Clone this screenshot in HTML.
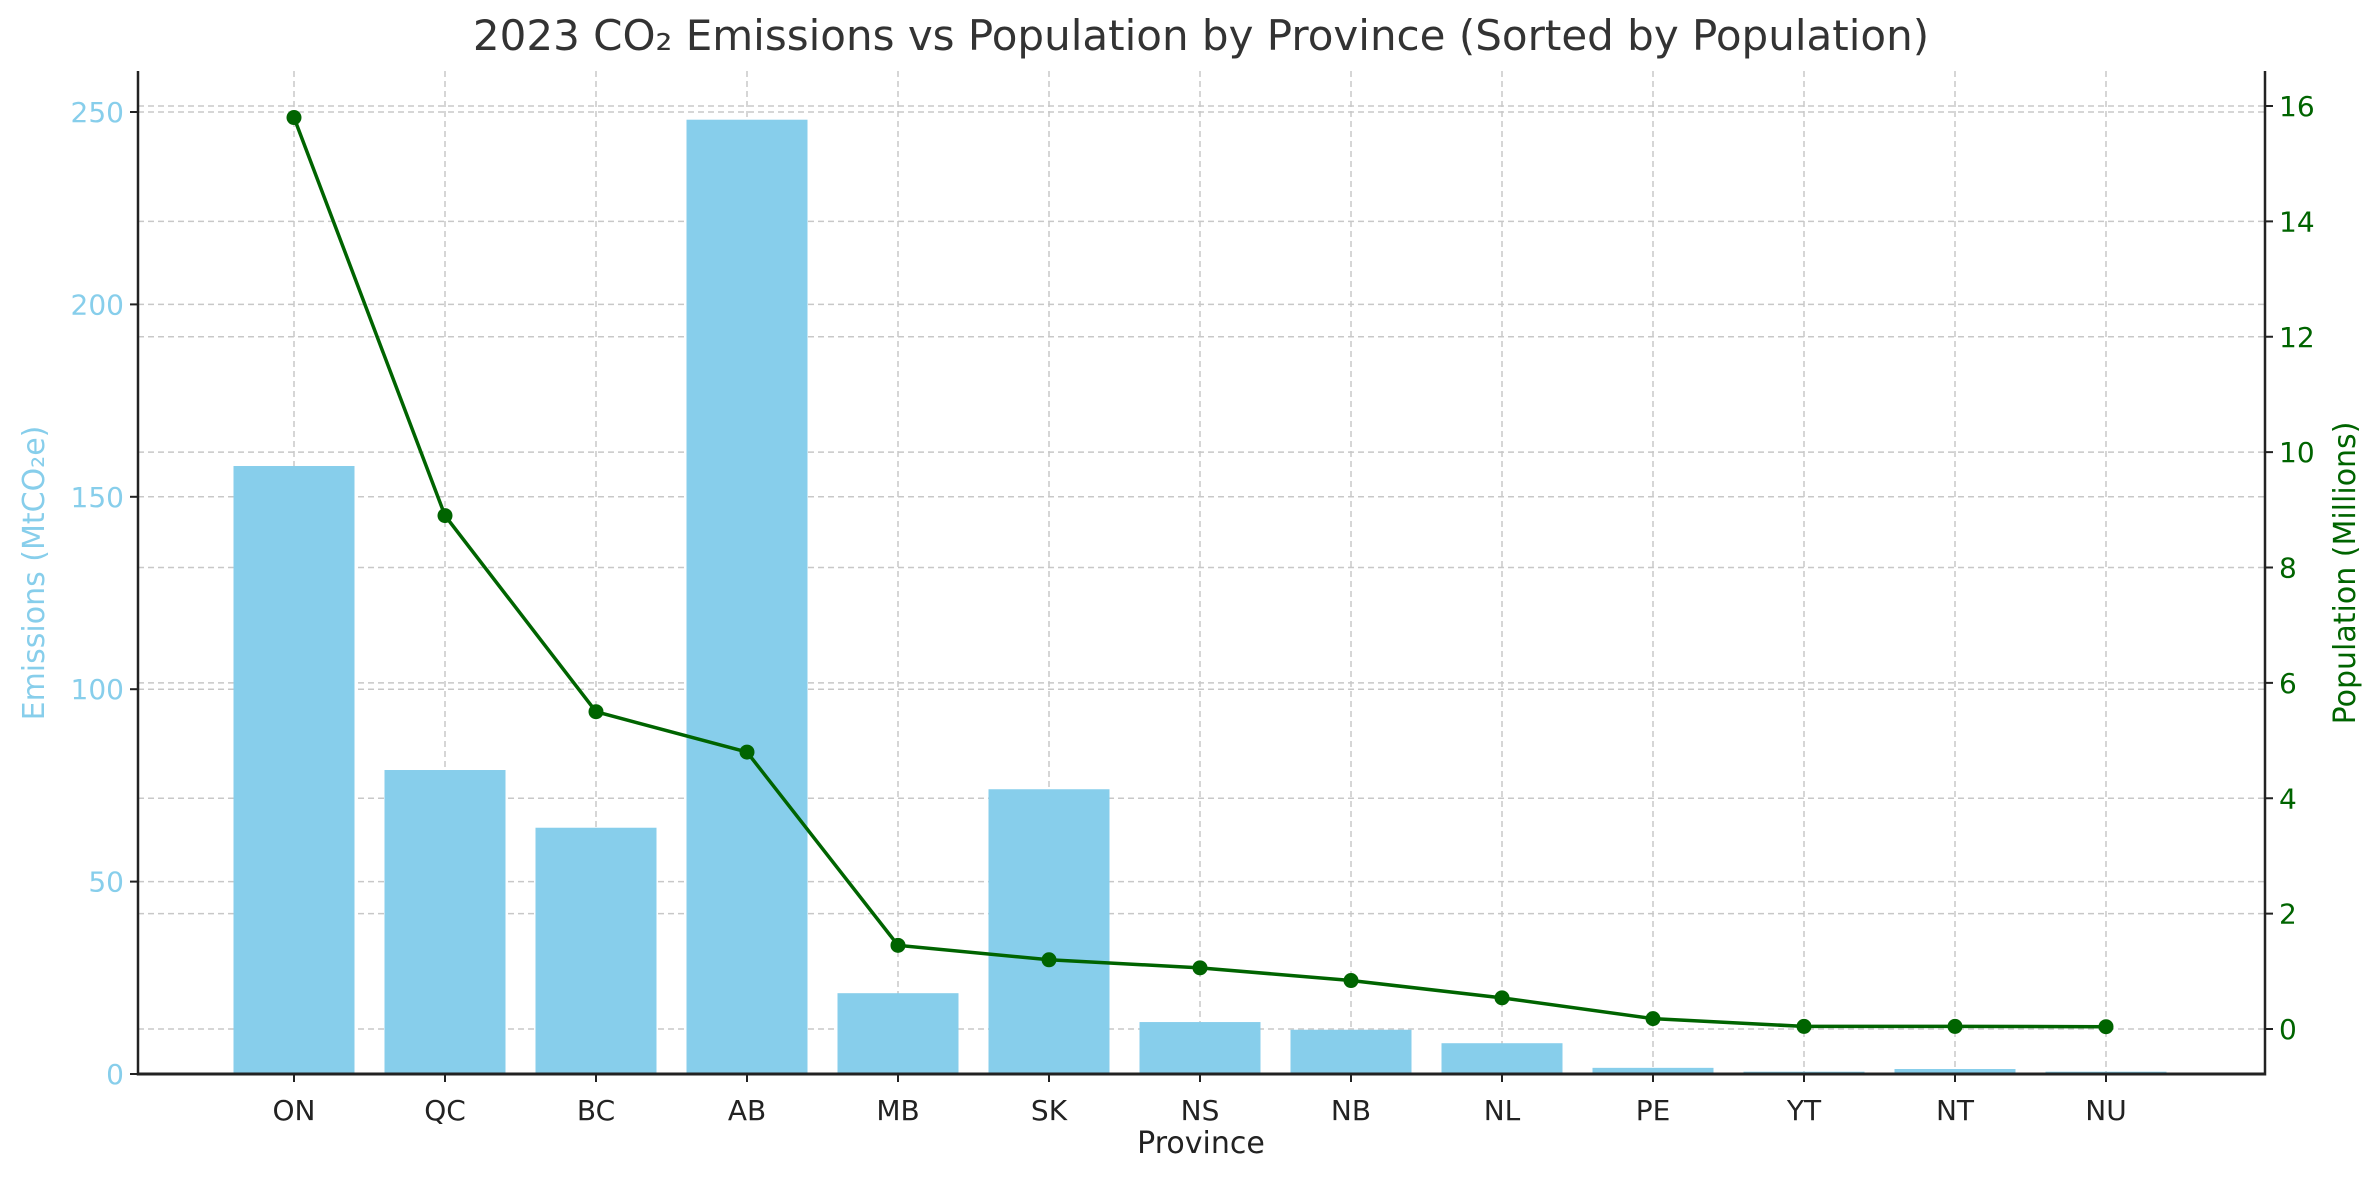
<!DOCTYPE html>
<html><head><meta charset="utf-8"><style>
html,body{margin:0;padding:0;background:#fff;}
svg{display:block;font-family:"DejaVu Sans","Liberation Sans",sans-serif;}
</style></head><body>
<svg id="chart" width="2379" height="1180" viewBox="0 0 2379 1180" xmlns="http://www.w3.org/2000/svg">
<text x="1201" y="50" font-size="42" text-anchor="middle" fill="#333">2023 CO₂ Emissions vs Population by Province (Sorted by Population)</text>
<g id="grid"></g><g id="bars"></g><g id="line"></g><g id="axes"></g>
<text x="1201" y="1153" font-size="30" text-anchor="middle" fill="#222">Province</text>
<text transform="translate(44,573) rotate(-90)" font-size="30" text-anchor="middle" fill="#87ceeb">Emissions (MtCO₂e)</text>
<text transform="translate(2355,573) rotate(-90)" font-size="30" text-anchor="middle" fill="#006400">Population (Millions)</text>
</svg>
<script>
const provinces=["ON","QC","BC","AB","MB","SK","NS","NB","NL","PE","YT","NT","NU"];
const emissions=[158,79,64,248,21,74,13.5,11.5,8,1.6,0.6,1.3,0.6];
const population=[15.8,8.9,5.5,4.8,1.45,1.2,1.06,0.84,0.54,0.18,0.045,0.045,0.04];
const emTicks=[0,50,100,150,200,250];
const popTicks=[0,2,4,6,8,10,12,14,16];
const NS="http://www.w3.org/2000/svg";
const L=138,R=2265,B=1074,T=71;
const xPos=i=>294+151*i;
const yEm=v=>1074-v*(962/250);
const yPop=v=>1029-v*(923/16);
function mk(tag,attrs,parent,text){const e=document.createElementNS(NS,tag);for(const k in attrs)e.setAttribute(k,attrs[k]);if(text!==undefined)e.textContent=text;parent.appendChild(e);return e;}
const grid=document.getElementById('grid'),bars=document.getElementById('bars'),line=document.getElementById('line'),axes=document.getElementById('axes');
provinces.forEach((p,i)=>{const g=mk('line',{x1:xPos(i),x2:xPos(i),y1:T,y2:B,stroke:'#c8c8c8','stroke-width':1.5,'stroke-dasharray':'6,4'},grid);

});
emTicks.forEach(v=>{const g=mk('line',{x1:L,x2:R,y1:yEm(v),y2:yEm(v),stroke:'#c8c8c8','stroke-width':1.5,'stroke-dasharray':'6,4'},grid);

});
popTicks.forEach(v=>{const g=mk('line',{x1:L,x2:R,y1:yPop(v),y2:yPop(v),stroke:'#c8c8c8','stroke-width':1.5,'stroke-dasharray':'6,4'},grid);

});
emissions.forEach((v,i)=>{const r=mk('rect',{x:xPos(i)-60.5,y:yEm(v),width:121,height:B-yEm(v),fill:'#87ceeb'},bars);

});
const pl=mk('polyline',{points:population.map((v,i)=>xPos(i)+','+yPop(v)).join(' '),fill:'none',stroke:'#006400','stroke-width':3.5},line);


population.forEach((v,i)=>{const c=mk('circle',{cx:xPos(i),cy:yPop(v),r:7.5,fill:'#006400'},line);

});
const a1=mk('line',{x1:L,x2:L,y1:T,y2:B+1.5,stroke:'#222','stroke-width':2.5},axes);


const a2=mk('line',{x1:R,x2:R,y1:T,y2:B+1.5,stroke:'#222','stroke-width':2.5},axes);


const a3=mk('line',{x1:L,x2:R,y1:B,y2:B,stroke:'#222','stroke-width':3},axes);


provinces.forEach((p,i)=>{mk('line',{x1:xPos(i),x2:xPos(i),y1:B,y2:B+8,stroke:'#222','stroke-width':2},axes);
const t=mk('text',{x:xPos(i),y:B+46,'font-size':28,'text-anchor':'middle',fill:'#222'},axes,p);

});
emTicks.forEach(v=>{mk('line',{x1:L-8,x2:L,y1:yEm(v),y2:yEm(v),stroke:'#222','stroke-width':2},axes);
const t=mk('text',{x:L-14,y:yEm(v)+10,'font-size':28,'text-anchor':'end',fill:'#87ceeb'},axes,String(v));

});
popTicks.forEach(v=>{mk('line',{x1:R,x2:R+8,y1:yPop(v),y2:yPop(v),stroke:'#222','stroke-width':2},axes);
const t=mk('text',{x:R+14,y:yPop(v)+10,'font-size':28,'text-anchor':'start',fill:'#006400'},axes,String(v));

});
</script>
</body></html>
